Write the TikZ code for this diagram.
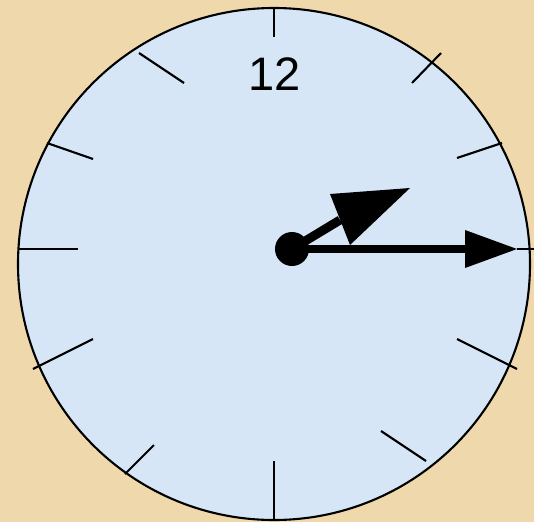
\documentclass[tikz,border=0pt]{standalone}
\usepackage{fontspec}
\setmainfont{Liberation Sans}
\definecolor{bgtan}{RGB}{239,217,172}
\definecolor{face}{RGB}{214,230,246}
\begin{document}
\begin{tikzpicture}[x=1pt,y=-1pt,
  tick/.style={draw=black,line width=2.1pt},
  hand/.style={draw=black,line width=7.5pt},
  hourhand/.style={draw=black,line width=9pt},
  headfill/.style={fill=black}]
\useasboundingbox (0,0) rectangle (534,522);
\fill[bgtan] (0,0) rectangle (534,522);
% face
\coordinate (c) at (274,264);
\filldraw[fill=face,draw=black,line width=2.1pt] (c) circle[radius=256];
% ticks
\draw[tick] (274,8) -- (274,37);
\draw[tick] (139,53) -- (184,83);
\draw[tick] (441,53) -- (412,83);
\draw[tick] (47,143) -- (93,159);
\draw[tick] (502,143) -- (457,158);
\draw[tick] (18,249) -- (78,249);
\draw[tick] (517,249) -- (534,249);
\draw[tick] (33,369) -- (93,339);
\draw[tick] (457,339) -- (517,369);
\draw[tick] (125,474) -- (154,445);
\draw[tick] (381,431) -- (426,461);
\draw[tick] (274,461) -- (274,521);
% numeral
\node[font=\fontsize{47}{47}\selectfont,inner sep=0pt] (twelve) at (275,74) {12};
% hands
\coordinate (hub) at (292,249);
\coordinate (mbase) at (466,249);
\coordinate (mtip) at (517,249);
\coordinate (hbase) at (340,220);
\coordinate (htip) at (410,188);
\draw[hand] (hub) -- (mbase);
\fill[headfill] (mtip) -- (465,230) -- (465,268) -- cycle;
\draw[hourhand] (hub) -- (hbase);
\fill[headfill] (htip) -- (330,194) -- (350,245) -- cycle;
\node[circle,fill=black,minimum size=34pt,inner sep=0pt] (dot) at (hub) {};
\end{tikzpicture}
\end{document}
